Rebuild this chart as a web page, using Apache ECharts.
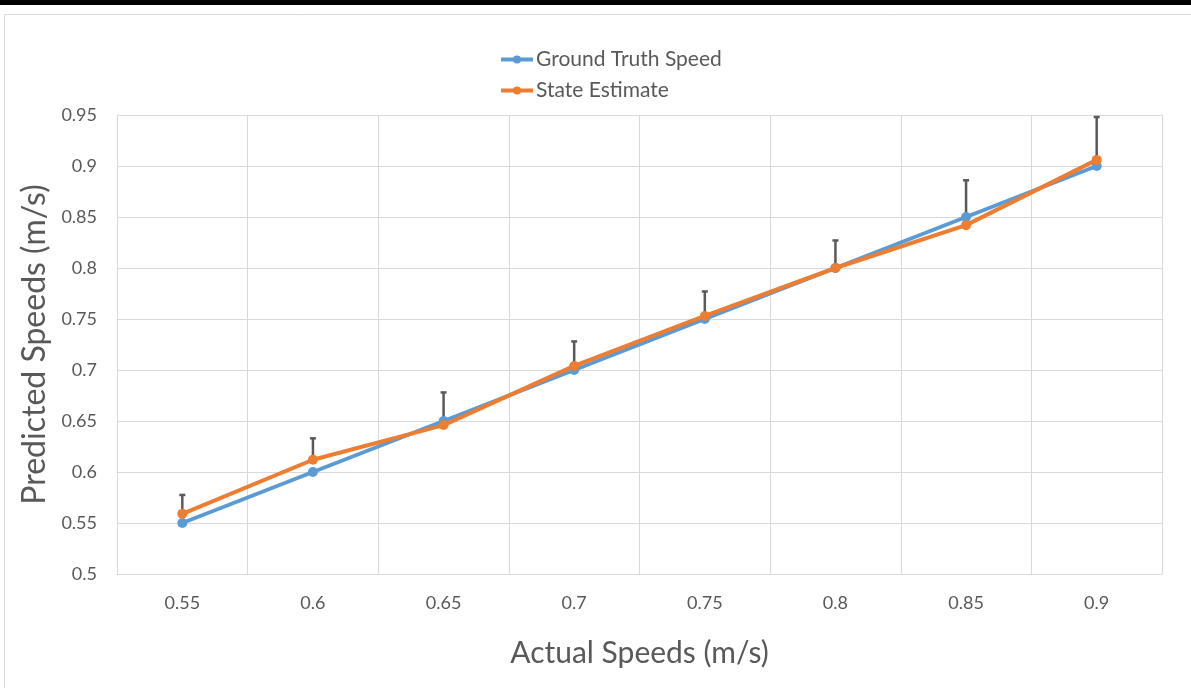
<!DOCTYPE html>
<html>
<head>
<meta charset="utf-8">
<script src="https://cdn.jsdelivr.net/npm/echarts@6/dist/echarts.min.js"></script>
<style>
  html, body { margin: 0; padding: 0; background: #fff; }
  #chart { width: 1191px; height: 688px; }
</style>
</head>
<body>
<div id="chart"></div>
<script>
const categories = ['0.55', '0.6', '0.65', '0.7', '0.75', '0.8', '0.85', '0.9'];
const groundTruth = [0.55, 0.60, 0.65, 0.70, 0.75, 0.80, 0.85, 0.90];
const stateEstimate = [0.559, 0.612, 0.646, 0.704, 0.753, 0.800, 0.842, 0.906];
// upper end of the error bar on the state estimate
const errorTop = [0.5775, 0.633, 0.678, 0.728, 0.777, 0.827, 0.886, 0.948];

const fontFamily = 'Lato, "Open Sans", sans-serif';
const textColor = '#595959';

const errorData = categories.map((c, i) => [i, stateEstimate[i], errorTop[i]]);

const myChart = echarts.init(document.getElementById('chart'));

const options = {
  animation: false,
  textStyle: { fontFamily: fontFamily },
  color: ['#5B9BD5', '#ED7D31'],
  graphic: [
    { type: 'rect', shape: { x: 0, y: 0, width: 1191, height: 5 }, style: { fill: '#000' } },
    { type: 'rect', shape: { x: 4.5, y: 14.5, width: 1200, height: 700 }, style: { fill: 'none', stroke: '#d9d9d9', lineWidth: 1 } }
  ],
  grid: {
    left: 117,
    right: 29,
    top: 115,
    bottom: 114,
  },
  legend: {
    orient: 'vertical',
    left: 494,
    top: 44,
    itemWidth: 32,
    itemHeight: 10,
    itemGap: 10,
    lineStyle: { width: 4 },
    textStyle: { fontSize: 21, color: textColor, fontFamily: fontFamily, padding: [0, 0, 0, -2] },
    data: ['Ground Truth Speed', 'State Estimate'],
  },
  xAxis: {
    type: 'category',
    data: categories,
    name: 'Actual Speeds (m/s)',
    nameLocation: 'middle',
    nameGap: 64,
    nameTextStyle: { fontSize: 30, color: textColor },
    axisLine: { lineStyle: { color: '#d9d9d9', width: 1 } },
    axisTick: { show: false },
    axisLabel: { fontSize: 18, color: textColor, margin: 20 },
    splitLine: { show: true, lineStyle: { color: '#d9d9d9', width: 1 } },
  },
  yAxis: {
    type: 'value',
    min: 0.5,
    max: 0.95,
    interval: 0.05,
    name: 'Predicted Speeds (m/s)',
    nameLocation: 'middle',
    nameGap: 64,
    nameTextStyle: { fontSize: 32, color: textColor },
    axisLine: { show: false },
    axisTick: { show: false },
    axisLabel: {
      fontSize: 18,
      color: textColor,
      margin: 20,
      formatter: (v) => String(parseFloat(v.toFixed(2))),
    },
    splitLine: { lineStyle: { color: '#d9d9d9', width: 1 } },
  },
  series: [
    {
      name: 'Ground Truth Speed',
      type: 'line',
      data: groundTruth,
      symbol: 'circle',
      symbolSize: 10,
      lineStyle: { width: 4 },
      z: 3,
    },
    {
      name: 'State Estimate',
      type: 'line',
      data: stateEstimate,
      symbol: 'circle',
      symbolSize: 10,
      lineStyle: { width: 4 },
      z: 4,
    },
    {
      name: 'error',
      type: 'custom',
      data: errorData,
      z: 2,
      renderItem: (params, api) => {
        const low = api.coord([api.value(0), api.value(1)]);
        const high = api.coord([api.value(0), api.value(2)]);
        const half = 3;
        const style = { stroke: '#595959', lineWidth: 2.5 };
        return {
          type: 'group',
          children: [
            { type: 'line', shape: { x1: low[0], y1: low[1], x2: high[0], y2: high[1] }, style: style },
            { type: 'line', shape: { x1: high[0] - half, y1: high[1], x2: high[0] + half, y2: high[1] }, style: style },
          ],
        };
      },
    },
  ],
};

myChart.setOption(options);
</script>
</body>
</html>
